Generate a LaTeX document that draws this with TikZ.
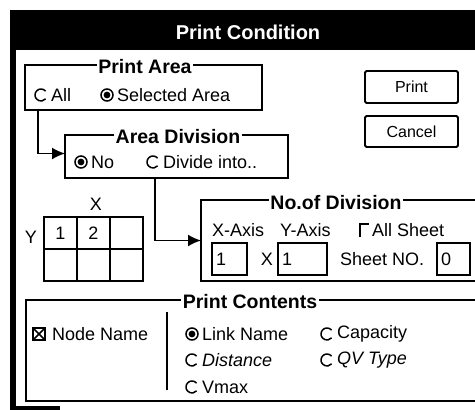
\documentclass[tikz,border=0pt]{standalone}
\usepackage{fontspec}
\setmainfont{Liberation Sans}
\usetikzlibrary{arrows.meta}

\begin{document}
\begin{tikzpicture}[x=1pt, y=-1pt,
  grp/.style={draw, line width=1.3pt, inner sep=0pt, outer sep=0pt},
  grptitle/.style={fill=white, inner sep=1.5pt, font=\fontsize{19.5}{22}\selectfont\bfseries},
  lbl/.style={inner sep=0pt, anchor=west, font=\fontsize{18}{20}\selectfont},
  btn/.style={draw, line width=1.8pt, rounded corners=1.5pt, minimum width=93pt, minimum height=32pt, font=\fontsize{16}{18}\selectfont},
  field/.style={draw, line width=1.3pt, minimum height=32pt, inner sep=4pt, align=left, font=\fontsize{18}{20}\selectfont},
  cell/.style={draw, line width=1.3pt, minimum width=33pt, minimum height=32pt, inner sep=0pt, font=\fontsize{18}{20}\selectfont},
  conn/.style={-{Latex[length=13pt,width=12pt]}, line width=1.6pt},
  radiooff/.pic={\draw[line width=1.5pt] (0,0) ++(40:6pt) arc[start angle=40, end angle=320, radius=6pt];},
  radioon/.pic={\draw[line width=1.5pt] (0,0) circle[radius=6pt]; \fill (0,0) circle[radius=3.4pt];}]
\useasboundingbox (0,0) rectangle (475,410);
% window frame
\fill (10,10) rectangle (475,50);
\fill (10,10) rectangle (16,410);
\fill (10,406) rectangle (60,410);
\node[text=white, font=\fontsize{20}{22}\selectfont\bfseries] (wtitle) at (248,32) {Print Condition};
% buttons
\node[btn] (bprint) at (411.5,87) {Print};
\node[btn, minimum height=31pt] (bcancel) at (411.5,131.5) {Cancel};
% print area
\node[grp, minimum width=237pt, minimum height=45pt] (parea) at (143.5,87.5) {};
\node[grptitle] (tparea) at (145,67) {Print Area};
\pic at (41,95) {radiooff};
\node[lbl] (rall) at (51,95) {All};
\pic at (107,95) {radioon};
\node[lbl] (rsel) at (117,95) {Selected Area};
% area division
\node[grp, minimum width=223pt, minimum height=43pt] (adiv) at (176.5,156.5) {};
\node[grptitle] (tadiv) at (178,137) {Area Division};
\pic at (81,162) {radioon};
\node[lbl] (rno) at (91,162) {No};
\pic at (153,162) {radiooff};
\node[lbl] (rdiv) at (163,162) {Divide into..};
% no. of division
\node[grp, minimum width=277pt, minimum height=81pt] (ndiv) at (339.5,240.5) {};
\node[grptitle] (tndiv) at (336,203) {No.of Division};
\node[lbl] (xaxis) at (212,230) {X-Axis};
\node[lbl] (yaxis) at (280,230) {Y-Axis};
\draw[line width=1.6pt] (360,237) -- (360,224) -- (369,224);
\node[lbl] (allsh) at (372,230) {All Sheet};
\node[field, text width=27pt] (fx) at (229.5,259) {1};
\node[lbl, anchor=center] (times) at (267,259) {X};
\node[field, text width=41pt] (fy) at (302.5,259) {1};
\node[lbl] (shno) at (340,259) {Sheet NO.};
\node[field, text width=25pt] (fsh) at (453.5,259) {0};
% sheet grid
\node[lbl, anchor=center] (gx) at (96,204) {X};
\node[lbl, anchor=center] (gy) at (31,237) {Y};
\node[cell] (c11) at (60.5,233) {1};
\node[cell] (c12) at (93.5,233) {2};
\node[cell] (c13) at (126.5,233) {};
\node[cell] (c21) at (60.5,265) {};
\node[cell] (c22) at (93.5,265) {};
\node[cell] (c23) at (126.5,265) {};
% print contents
\node[grp, minimum width=452pt, minimum height=101pt] (pcont) at (252,350.5) {};
\node[grptitle] (tpcont) at (250,302) {Print Contents};
\draw[line width=1.3pt] (167,312) -- (167,390);
\draw[line width=1.8pt] (33,328) rectangle (45,340);
\draw[line width=1.5pt] (33,328) -- (45,340) (45,328) -- (33,340);
\node[lbl] (nname) at (52,334) {Node Name};
\pic at (192,334) {radioon};
\node[lbl] (lname) at (202,334) {Link Name};
\pic at (327,334) {radiooff};
\node[lbl] (cap) at (337,334) {Capacity};
\pic at (192,360) {radiooff};
\node[lbl, font=\fontsize{18}{20}\selectfont\itshape] (dist) at (202,360) {Distance};
\pic at (327,360) {radiooff};
\node[lbl, font=\fontsize{18}{20}\selectfont\itshape] (qv) at (337,360) {QV Type};
\pic at (192,387) {radiooff};
\node[lbl] (vmax) at (202,387) {Vmax};
% connectors
\draw[conn] ([xshift=13pt]parea.south west) |- ([yshift=3pt]adiv.west);
\draw[conn] ([xshift=-21.5pt]adiv.south) |- (ndiv.west);
\end{tikzpicture}
\end{document}
